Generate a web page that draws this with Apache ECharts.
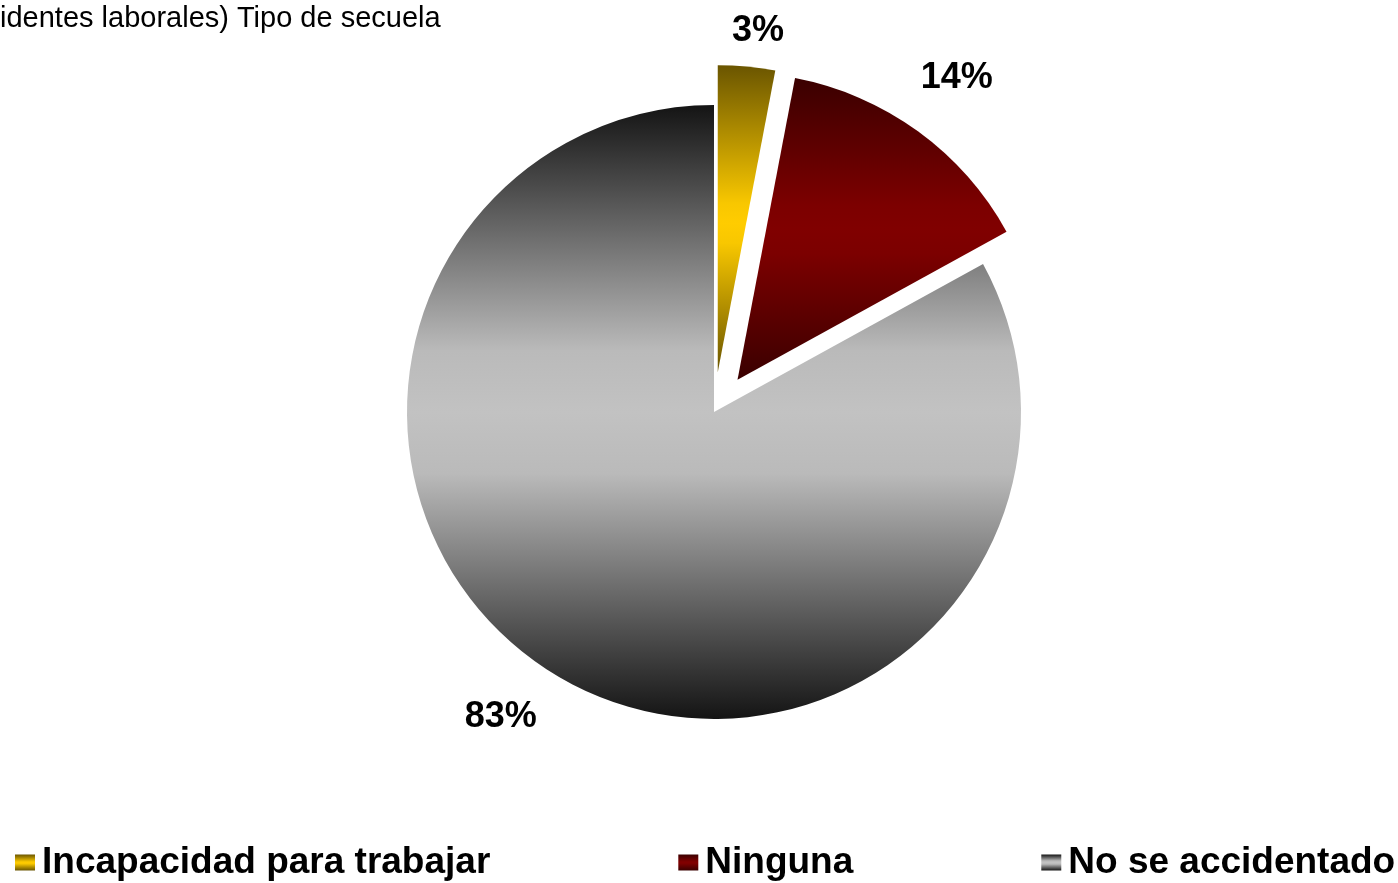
<!DOCTYPE html>
<html>
<head>
<meta charset="utf-8">
<script src="https://cdn.jsdelivr.net/npm/echarts@6/dist/echarts.min.js"></script>
<style>
  html, body { margin: 0; padding: 0; background: #ffffff; }
  #chart { width: 1398px; height: 883px; }
</style>
</head>
<body>
<div id="chart"></div>
<script>
// Secuela de accidentes laborales
const titleText = 'identes laborales) Tipo de secuela';
const categories = ['Incapacidad para trabajar', 'Ninguna', 'No se accidentado'];
const values = [3, 14, 83];
const exploded = [true, true, false];

// Vertical dark-light-dark gradient for each slice, with a soft plateau in the middle
function band(edge, mid, near, from, to) {
  return {
    type: 'linear', x: 0, y: 0, x2: 0, y2: 1,
    colorStops: [
      { offset: 0, color: edge },
      { offset: from, color: near },
      { offset: (from + to) / 2, color: mid },
      { offset: to, color: near },
      { offset: 1, color: edge }
    ]
  };
}
const fills = [
  band('#6a5500', '#ffcc00', '#f8c700', 0.45, 0.58),
  band('#3a0000', '#800000', '#7c0000', 0.42, 0.58),
  band('#141414', '#c2c2c2', '#bababa', 0.4, 0.6)
];
// Per-slice label placement
const labelLen = [36, 66, 47];
const labelGap = [-18, -36, -3];

const font = 'Liberation Sans, Arial, sans-serif';

const chart = echarts.init(document.getElementById('chart'), null, { renderer: 'canvas' });
chart.setOption({
  animation: false,
  backgroundColor: '#ffffff',
  title: {
    text: titleText,
    left: 0,
    top: 4,
    padding: 0,
    textStyle: { fontFamily: font, fontSize: 29, fontWeight: 'normal', color: '#000' }
  },
  legend: {
    top: 844,
    left: 15,
    padding: 0,
    itemWidth: 20,
    itemHeight: 16,
    itemGap: 188,
    selectedMode: false,
    icon: 'rect',
    textStyle: { fontFamily: font, fontSize: 37, fontWeight: 'bold', color: '#000', padding: [0, 0, 0, 2] },
    data: categories
  },
  series: [{
    type: 'pie',
    center: [714, 412],
    radius: 307,
    startAngle: 90,
    clockwise: true,
    selectedMode: 'multiple',
    selectedOffset: 40,
    avoidLabelOverlap: false,
    emphasis: { disabled: true },
    label: {
      show: true,
      position: 'outside',
      formatter: '{d}%',
      fontFamily: font,
      fontSize: 36,
      fontWeight: 'bold',
      color: '#000'
    },
    labelLine: { show: false, length2: 0 },
    itemStyle: { borderWidth: 0 },
    data: categories.map((name, i) => ({
      name: name,
      value: values[i],
      selected: exploded[i],
      itemStyle: { color: fills[i] },
      label: { distanceToLabelLine: labelGap[i] },
      labelLine: { length: labelLen[i], length2: 0 }
    }))
  }]
});
</script>
</body>
</html>
